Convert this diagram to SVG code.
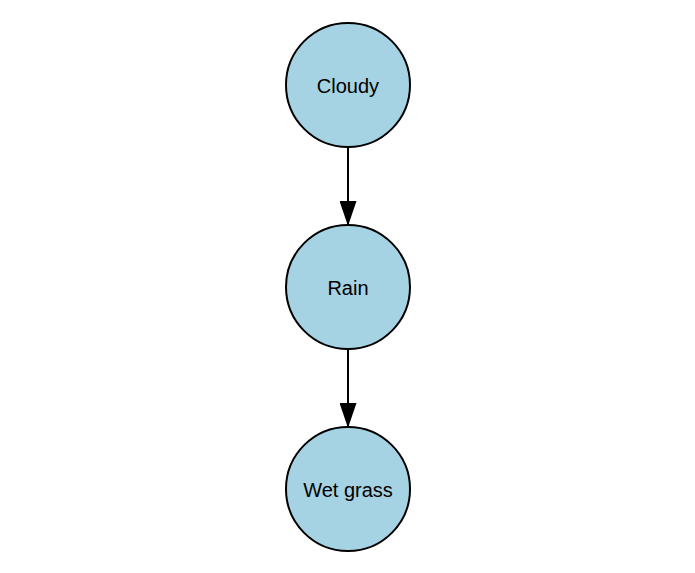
<svg xmlns="http://www.w3.org/2000/svg" width="695" height="573" viewBox="0 0 695 573">
<style>
.node circle{fill:#a6d3e3;stroke:#000;stroke-width:2}
.node text{font-family:"Liberation Sans",Arial,sans-serif;font-size:20px;fill:#000;text-anchor:middle;dominant-baseline:central}
.edge{stroke:#000;stroke-width:2;fill:none}
</style>
<defs>
<marker id="arr" markerUnits="userSpaceOnUse" markerWidth="25" markerHeight="17" refX="25" refY="8.5" orient="auto" viewBox="0 0 25 17">
<path d="M0,0 L25,8.5 L0,17 Z" fill="#000"/>
</marker>
</defs>
<rect width="695" height="573" fill="#fff"/>
<g id="connectors">
<line class="edge" x1="348" y1="147" x2="348" y2="226" marker-end="url(#arr)"/>
<line class="edge" x1="348" y1="349" x2="348" y2="428" marker-end="url(#arr)"/>
</g>
<g id="cloudy" class="node"><circle cx="348" cy="85" r="62"/><text x="348" y="86">Cloudy</text></g>
<g id="rain" class="node"><circle cx="348" cy="287" r="62"/><text x="348" y="288">Rain</text></g>
<g id="wetgrass" class="node"><circle cx="348" cy="489" r="62"/><text x="348" y="490">Wet grass</text></g>
</svg>
